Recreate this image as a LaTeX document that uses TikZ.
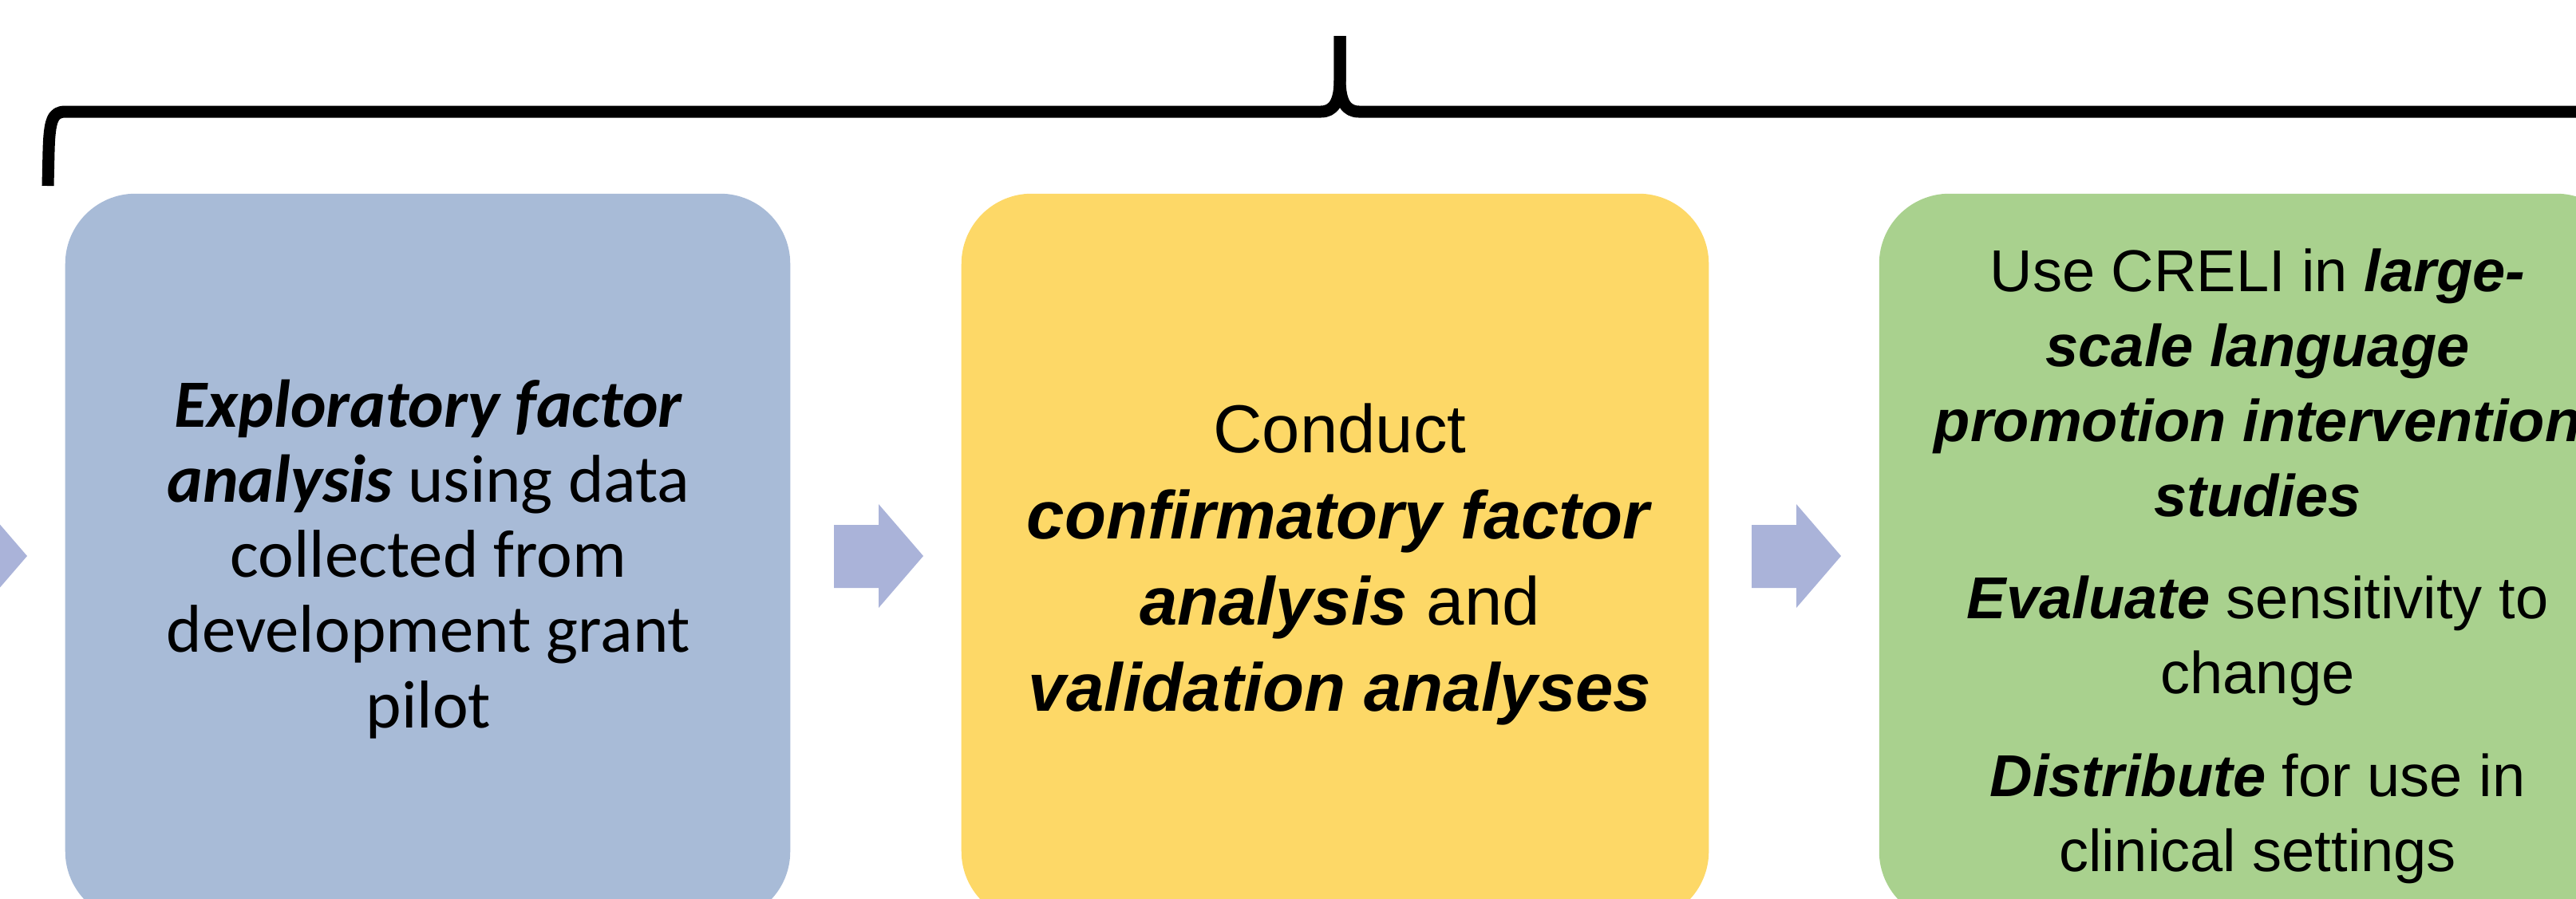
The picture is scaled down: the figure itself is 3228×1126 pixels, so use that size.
\documentclass[tikz,border=0pt]{standalone}
\usepackage{fontspec}
\newfontfamily\calibri{Carlito}
\newfontfamily\arial{Liberation Sans}
\definecolor{boxblue}{HTML}{A8BBD7}
\definecolor{boxyellow}{HTML}{FDD867}
\definecolor{boxgreen}{HTML}{A9D18E}
\definecolor{arrowfill}{HTML}{AAB3D9}
\tikzset{
  stage/.style={draw=none, rounded corners=0.88cm, minimum height=9.12cm, inner sep=0pt},
  label/.style={anchor=base, inner sep=0pt},
  blockarrow/.style={fill=arrowfill, draw=none},
  bracestroke/.style={draw=black, line width=4.27pt, line cap=butt, line join=round}
}
\begin{document}
\begin{tikzpicture}[x=0.01cm, y=-0.01cm]
\useasboundingbox (0,0) rectangle (3228,1126);
\clip (0,0) rectangle (3228,1126);
% boxes
\node[stage, fill=boxblue, minimum width=9.08cm] (b1) at (536,699) {};
\node[stage, fill=boxyellow, minimum width=9.36cm] (b2) at (1673,699) {};
\node[stage, fill=boxgreen, minimum width=9.36cm] (b3) at (2823,699) {};
% texts
\node[label] (t1) at (537,535) {\parbox[t]{10cm}{\centering\calibri\fontsize{24.1pt}{26.8pt}\selectfont
  \textbf{\textit{Exploratory factor}}\\
  \textbf{\textit{analysis}} using data\\
  collected from\\
  development grant\\
  pilot}};
\node[label] (t2) at (1679,567) {\parbox[t]{10cm}{\centering\arial\fontsize{24.2pt}{30.73pt}\selectfont
  Conduct\\
  \textbf{\textit{confirmatory factor}}\\
  \textbf{\textit{analysis}} and\\
  \textbf{\textit{validation analyses}}}};
\node[label] (t3) at (2829,365) {\parbox[t]{10cm}{\centering\arial\fontsize{21.06pt}{26.75pt}\selectfont
  Use CRELI in \textbf{\textit{large-}}\\
  \textbf{\textit{scale language}}\\
  \textbf{\textit{promotion intervention}}\\
  \textbf{\textit{studies}}\\[9.8pt]
  \textbf{\textit{Evaluate}} sensitivity to\\
  change\\[9.8pt]
  \textbf{\textit{Distribute}} for use in\\
  clinical settings}};
% block arrows
\fill[blockarrow] (-78,658) -- (-22,658) -- (-22,632) -- (34,697) -- (-22,762) -- (-22,737) -- (-78,737) -- cycle;
\fill[blockarrow] (1045,658) -- (1101,658) -- (1101,632) -- (1157,697) -- (1101,762) -- (1101,737) -- (1045,737) -- cycle;
\fill[blockarrow] (2195,658) -- (2251,658) -- (2251,632) -- (2307,697) -- (2251,762) -- (2251,737) -- (2195,737) -- cycle;
% brace
\coordinate (bl) at (60,233);
\coordinate (bt) at (1679,45);
\coordinate (br) at (3298,233);
\draw[bracestroke] (bl) -- (61,190) .. controls (62,150) and (66,140) .. (82,140) -- (1655,140) .. controls (1671,140) and (1679,128) .. (1679,100) -- (bt);
\draw[bracestroke] (bt) -- (1679,100) .. controls (1679,128) and (1687,140) .. (1703,140) -- (3276,140) .. controls (3292,140) and (3296,150) .. (3297,190) -- (br);
\end{tikzpicture}
\end{document}
